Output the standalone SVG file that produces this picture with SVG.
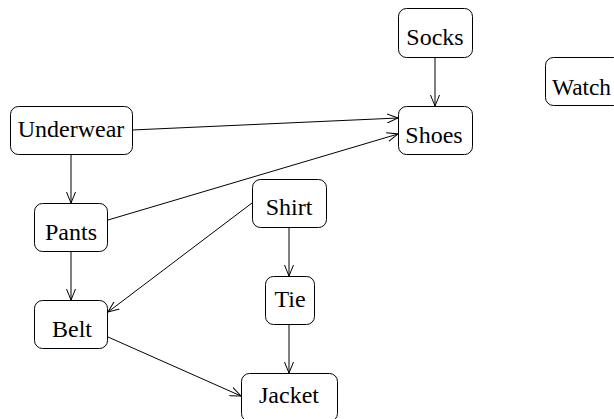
<svg xmlns="http://www.w3.org/2000/svg" width="614" height="419" viewBox="0 0 614 419">
<defs>
<marker id="arr" markerWidth="12" markerHeight="10" refX="11" refY="5" orient="auto" markerUnits="userSpaceOnUse">
<path d="M0,0.5 L11,5 L0,9.5" fill="none" stroke="#000" stroke-width="1"/>
</marker>
<style>
.n rect{fill:#fff;stroke:#000;stroke-width:1}
.n text{font-family:"Liberation Serif","Times New Roman",serif;font-size:24px;fill:#000;text-anchor:middle}
.e line{stroke:#000;stroke-width:1;marker-end:url(#arr)}
</style>
</defs>
<rect width="614" height="419" fill="#fff"/>
<g id="edges" class="e">
<line x1="435" y1="57" x2="435" y2="106"/>
<line x1="132" y1="130" x2="398" y2="118"/>
<line x1="108" y1="220" x2="398" y2="134"/>
<line x1="71" y1="154" x2="71" y2="203"/>
<line x1="71" y1="252" x2="71" y2="300"/>
<line x1="252" y1="203" x2="108" y2="312"/>
<line x1="289" y1="227" x2="289" y2="276"/>
<line x1="289" y1="324" x2="289" y2="373"/>
<line x1="108" y1="337" x2="241" y2="396"/>
</g>
<g id="underwear" class="n"><rect x="10.5" y="106.5" width="122" height="48" rx="8"/><text x="71" y="137">Underwear</text></g>
<g id="pants" class="n"><rect x="34.5" y="203.5" width="73" height="48" rx="8"/><text x="71" y="240">Pants</text></g>
<g id="belt" class="n"><rect x="34.5" y="300.5" width="73" height="48" rx="8"/><text x="72" y="337">Belt</text></g>
<g id="shirt" class="n"><rect x="252.5" y="179.5" width="74" height="48" rx="8"/><text x="289" y="215">Shirt</text></g>
<g id="tie" class="n"><rect x="265.5" y="276.5" width="49" height="48" rx="8"/><text x="290" y="307">Tie</text></g>
<g id="jacket" class="n"><rect x="241.5" y="373.5" width="96" height="48" rx="8"/><text x="289" y="403">Jacket</text></g>
<g id="socks" class="n"><rect x="398.5" y="8.5" width="74" height="49" rx="8"/><text x="435" y="45">Socks</text></g>
<g id="shoes" class="n"><rect x="398.5" y="106.5" width="74" height="48" rx="8"/><text x="434" y="143">Shoes</text></g>
<g id="watch" class="n"><rect x="545.5" y="57.5" width="76" height="48" rx="8"/><text x="581.5" y="95" textLength="59" lengthAdjust="spacingAndGlyphs">Watch</text></g>
</svg>
